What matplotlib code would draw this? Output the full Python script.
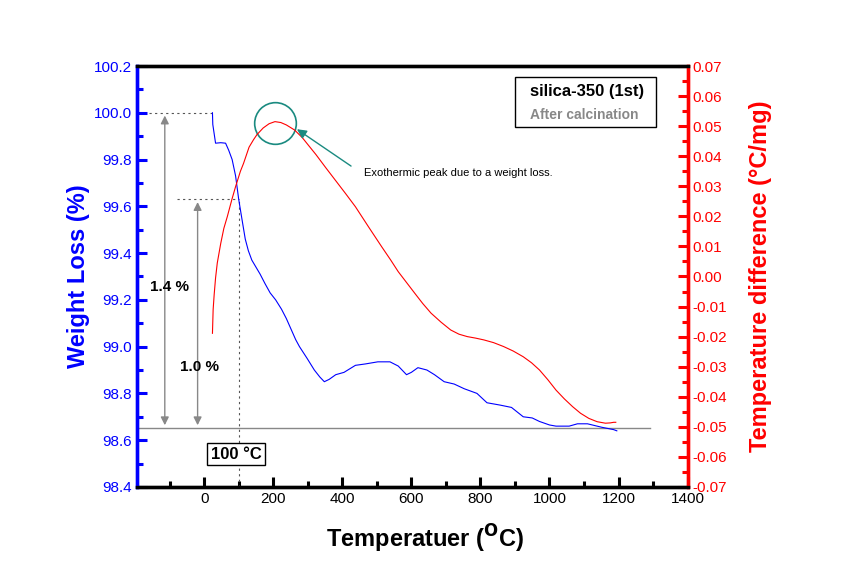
import matplotlib
matplotlib.use("Agg")
import matplotlib.pyplot as plt
from matplotlib.ticker import MultipleLocator, FormatStrFormatter
from matplotlib.patches import Rectangle

plt.rcParams['font.family'] = ['Liberation Sans', 'DejaVu Sans']

# weight loss curve (TGA)
tga_t = [24, 25, 33, 48, 62, 71, 81, 91, 100, 110, 119, 128, 138, 150, 162, 176, 191, 207,
         224, 238, 253, 265, 276, 298, 319, 335, 348, 362, 381, 405, 438, 467, 503, 538,
         562, 586, 600, 619, 645, 667, 695, 724, 753, 790, 819, 857, 890, 924, 950, 971,
         1000, 1019, 1057, 1081, 1110, 1152, 1186, 1195]
tga_w = [100.0, 99.95, 99.87, 99.872, 99.87, 99.84, 99.80, 99.73, 99.63, 99.54, 99.46, 99.41,
         99.37, 99.34, 99.31, 99.27, 99.23, 99.20, 99.16, 99.12, 99.07, 99.03, 99.00, 98.95,
         98.90, 98.87, 98.85, 98.86, 98.88, 98.89, 98.92, 98.926, 98.935, 98.935, 98.917,
         98.88, 98.89, 98.91, 98.90, 98.88, 98.85, 98.84, 98.82, 98.80, 98.76, 98.75,
         98.74, 98.70, 98.695, 98.68, 98.665, 98.66, 98.66, 98.67, 98.67, 98.655, 98.645,
         98.64]

# temperature difference curve (DTA)
dta_t = [24, 26, 29, 33, 38, 48, 57, 67, 80, 91, 105, 114, 130, 143, 153, 171, 188, 205,
         222, 238, 262, 284, 305, 324, 352, 390, 410, 438, 476, 514, 540, 562, 586, 610,
         633, 657, 686, 714, 738, 762, 786, 810, 838, 867, 895, 924, 948, 971, 995, 1019,
         1043, 1067, 1090, 1114, 1138, 1162, 1176, 1186, 1192]
dta_v = [-0.0189, -0.0110, -0.0060, -0.0005, 0.0045, 0.0110, 0.0160, 0.0199, 0.0255, 0.0299,
         0.0350, 0.0376, 0.0430, 0.0455, 0.0472, 0.0494, 0.0508, 0.0515, 0.0512, 0.0504,
         0.0487, 0.0462, 0.0432, 0.0405, 0.0362, 0.0305, 0.0275, 0.0232, 0.0165, 0.0099,
         0.0055, 0.0016, -0.0020, -0.0056, -0.0090, -0.0122, -0.0152, -0.0178, -0.0192,
         -0.0200, -0.0205, -0.0211, -0.0220, -0.0233, -0.0248, -0.0267, -0.0287, -0.0311,
         -0.0343, -0.0378, -0.0407, -0.0433, -0.0455, -0.0472, -0.0483, -0.0488, -0.0487,
         -0.0485, -0.0485]

blue = '#0000ff'
red = '#ff0000'
teal = '#1a8a80'
gray = '#888888'

fig = plt.figure(figsize=(8.66, 5.79), dpi=100)
ax = fig.add_axes([0.158, 0.159, 0.636, 0.727])
ax2 = ax.twinx()

ax.plot(tga_t, tga_w, color=blue, lw=0.8, zorder=3)
ax2.plot(dta_t, dta_v, color=red, lw=0.8, zorder=3)

ax.set_xlim(-195, 1400)
ax.set_ylim(98.4, 100.2)
ax2.set_ylim(-0.07, 0.07)

ax.xaxis.set_major_locator(MultipleLocator(200))
ax.xaxis.set_minor_locator(MultipleLocator(100))
ax.yaxis.set_major_locator(MultipleLocator(0.2))
ax.yaxis.set_minor_locator(MultipleLocator(0.1))
ax.yaxis.set_major_formatter(FormatStrFormatter('%.1f'))
ax2.yaxis.set_major_locator(MultipleLocator(0.01))
ax2.yaxis.set_minor_locator(MultipleLocator(0.005))
ax2.yaxis.set_major_formatter(FormatStrFormatter('%.2f'))

for s in ax.spines.values():
    s.set_linewidth(2.4)
for s in ax2.spines.values():
    s.set_linewidth(2.4)
ax2.spines['left'].set_color(blue)
ax2.spines['right'].set_color(red)
ax2.spines['top'].set_color('black')
ax2.spines['bottom'].set_color('black')
ax.spines['left'].set_color(blue)
ax.spines['right'].set_color(red)

ax.tick_params(axis='x', which='both', direction='in', width=2.2, colors='black', labelsize=11)
ax.tick_params(axis='x', which='major', length=7)
ax.tick_params(axis='x', which='minor', length=4)
ax.tick_params(axis='y', which='both', direction='in', width=2.2, colors=blue, labelsize=11)
ax.tick_params(axis='y', which='major', length=7)
ax.tick_params(axis='y', which='minor', length=4)
ax2.tick_params(axis='y', which='both', direction='in', width=2.2, colors=red, labelsize=11)
ax2.tick_params(axis='y', which='major', length=7)
ax2.tick_params(axis='y', which='minor', length=4)

ax.set_xlabel('Temperatuer ($\\mathbf{^{O}}$C)', fontsize=17, fontweight='bold', labelpad=12)
ax.xaxis.label.set_x(0.523)
ax.set_ylabel('Weight Loss (%)', fontsize=17, fontweight='bold', color=blue, labelpad=3)
ax2.set_ylabel('Temperature difference (\u00b0C/mg)', fontsize=17, fontweight='bold',
               color=red, labelpad=16)

# annotation guides
base = 98.652
ax.axhline(base, xmin=0, xmax=(1290 + 195) / 1595, color=gray, lw=1.0, zorder=2)
ax.plot([-161, 24], [100.0, 100.0], ls=(0, (2, 3)), color='#555555', lw=0.8)
ax.plot([-80, 100], [99.63, 99.63], ls=(0, (2, 3)), color='#555555', lw=0.8)
ax.plot([100, 100], [98.4, 99.63], ls=(0, (2, 3)), color='#555555', lw=0.8)
ax.annotate('', xy=(-114, 100.0), xytext=(-114, base),
            arrowprops=dict(arrowstyle='<|-|>', color=gray, lw=1.0, mutation_scale=12))
ax.annotate('', xy=(-19, 99.63), xytext=(-19, base),
            arrowprops=dict(arrowstyle='<|-|>', color=gray, lw=1.0, mutation_scale=12))
ax.text(-158, 99.255, '1.4 %', fontsize=11, fontweight='bold', va='center')
ax.text(-70, 98.915, '1.0 %', fontsize=11, fontweight='bold', va='center')
ax.text(92, 98.54, '100 \u00b0C', fontsize=12, fontweight='bold', ha='center', va='center',
        bbox=dict(boxstyle='square,pad=0.2', fc='white', ec='black', lw=1.0))

# exothermic peak marker
ax2.plot([205], [0.0510], marker='o', ms=30, mfc='none', mec=teal, mew=1.2)
ax2.annotate('', xy=(262, 0.0495), xytext=(432, 0.0362),
             arrowprops=dict(arrowstyle='-|>', color=teal, lw=1.0, mutation_scale=14))
ax2.text(462, 0.0345, 'Exothermic peak due to a weight loss.', fontsize=8, va='center')

# sample box
ax.add_patch(Rectangle((0.687, 0.855), 0.256, 0.119, transform=ax.transAxes,
                       fc='white', ec='black', lw=1.0, zorder=4))
ax.text(0.818, 0.939, 'silica-350 (1st)', transform=ax.transAxes, fontsize=12,
        fontweight='bold', ha='center', va='center', zorder=5)
ax.text(0.812, 0.884, 'After calcination', transform=ax.transAxes, fontsize=10,
        fontweight='bold', color=gray, ha='center', va='center', zorder=5)

fig.savefig('out.png', dpi=100)
